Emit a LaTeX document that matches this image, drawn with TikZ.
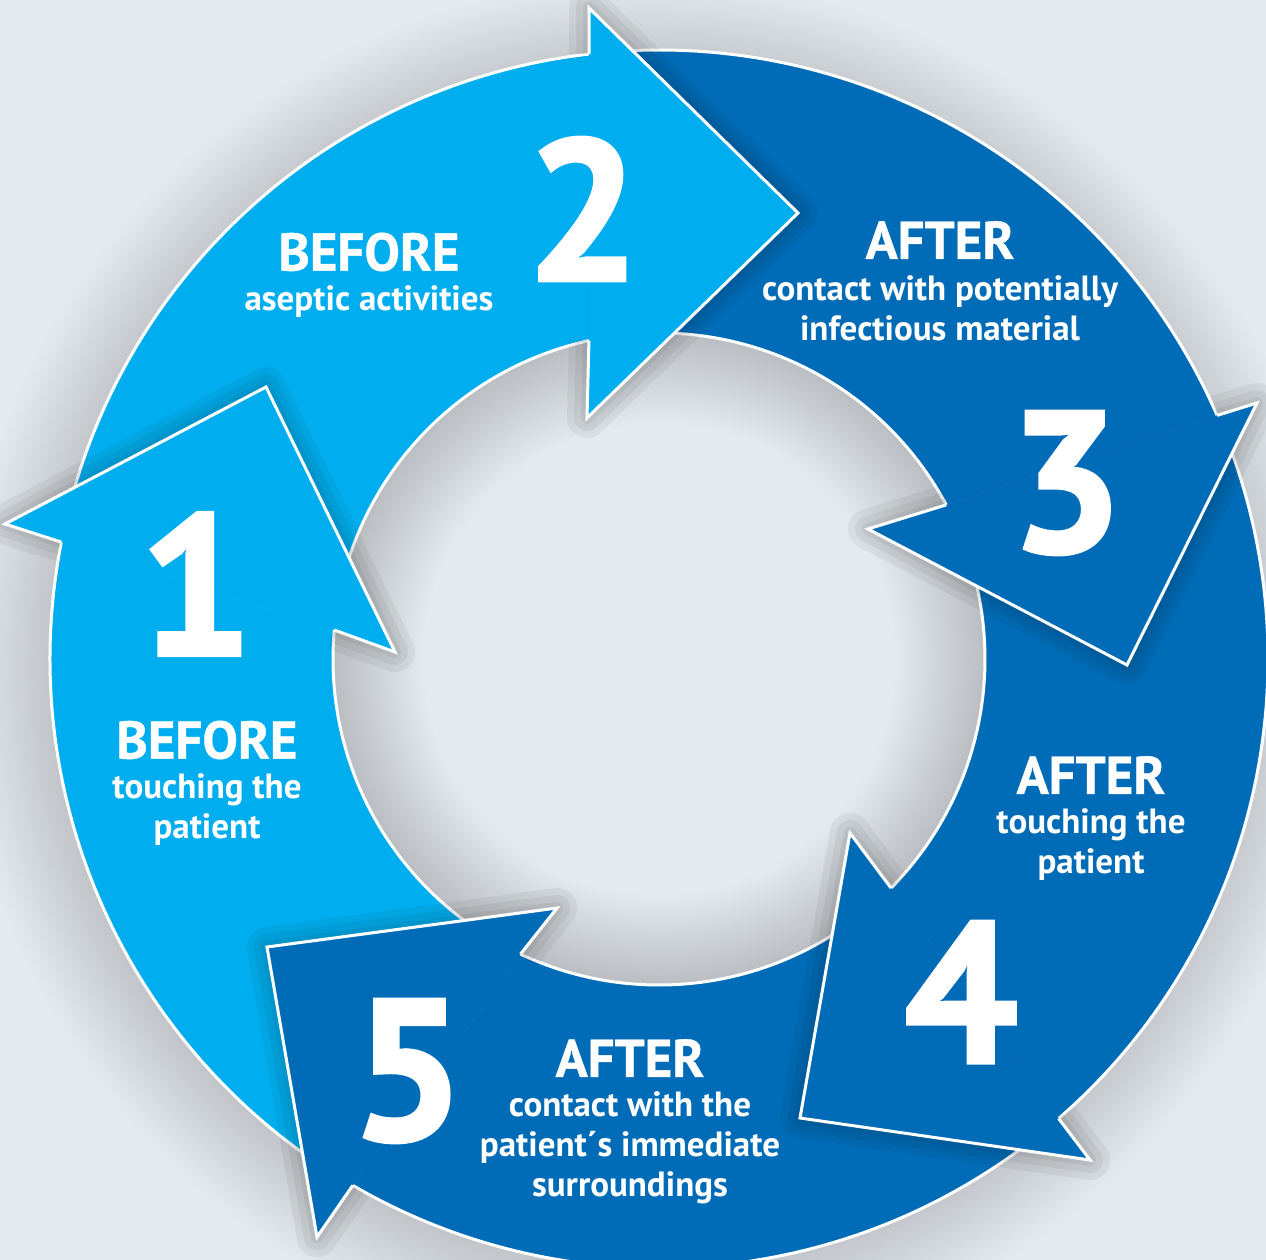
\documentclass[tikz,border=0pt]{standalone}
\usepackage{fontspec}
\setmainfont{PT Sans}
\newfontfamily\numfont{PT Sans}[BoldFeatures={FakeBold=2}]
\newfontfamily\titlefont{PT Sans}[BoldFeatures={FakeBold=0.8}]
\usetikzlibrary{calc,positioning}

\definecolor{bgblue}{RGB}{228,234,238}
\definecolor{lightarrow}{RGB}{0,174,239}
\definecolor{darkarrow}{RGB}{0,108,183}
\definecolor{shadowgrey}{RGB}{186,189,193}

\pgfdeclareradialshading{holeshade}{\pgfpoint{0bp}{0bp}}{color(0bp)=(bgblue); color(18bp)=(bgblue); color(25bp)=(shadowgrey); color(50bp)=(shadowgrey)}
\pgfdeclareradialshading{ringshade}{\pgfpoint{0bp}{0bp}}{color(0bp)=(shadowgrey); color(21bp)=(shadowgrey); color(25bp)=(bgblue); color(50bp)=(bgblue)}

\begin{document}
\begin{tikzpicture}[x=1pt, y=-1pt,
  edge/.style={draw=white, line width=3pt},
  headshadow/.style={preaction={draw=black, draw opacity=0.05, line width=40pt, line join=round},
                     preaction={draw=black, draw opacity=0.05, line width=26pt, line join=round},
                     preaction={draw=black, draw opacity=0.05, line width=12pt, line join=round}},
  numtext/.style={text=white, inner sep=0pt, font=\numfont\bfseries\fontsize{200}{200}\selectfont},
  headtext/.style={text=white, inner sep=0pt, font=\titlefont\bfseries\fontsize{53}{53}\selectfont},
  subtext/.style={text=white, inner sep=0pt, align=center, font=\bfseries\fontsize{35}{40}\selectfont}]

% background and shadows
\fill[bgblue] (0,0) rectangle (1266,1260);
\useasboundingbox (0,0) rectangle (1266,1260);
\clip (0,0) rectangle (1266,1260);
\coordinate (c) at (659,659);
\shade[shading=ringshade] (650,668) circle (690);
\shade[shading=holeshade] (c) circle (326);

% notches on the outer and inner circle
\coordinate (o1) at ($(c)+(191.07:609)$);
\coordinate (i1) at ($(c)+(185.10:326)$);
\coordinate (o2) at ($(c)+(263.41:609)$);
\coordinate (i2) at ($(c)+(257.59:326)$);
\coordinate (o3) at ($(c)+(336.42:609)$);
\coordinate (i3) at ($(c)+(331.78:326)$);
\coordinate (o4) at ($(c)+(48.99:609)$);
\coordinate (i4) at ($(c)+(44.63:326)$);
\coordinate (o5) at ($(c)+(120.19:609)$);
\coordinate (i5) at ($(c)+(115.14:326)$);

% arrow heads: outer corner, tip, inner corner
\coordinate (a1) at (5,524);     \coordinate (t1) at (266,387);  \coordinate (b1) at (395,652);
\coordinate (a2) at (589,8);     \coordinate (t2) at (798,213);  \coordinate (b2) at (587,418);
\coordinate (a3) at (1257,403);  \coordinate (t3) at (1127,665); \coordinate (b3) at (868,529);
\coordinate (a4) at (1090,1160); \coordinate (t4) at (800,1118); \coordinate (b4) at (850,833);
\coordinate (a5) at (317,1237);  \coordinate (t5) at (267,947);  \coordinate (b5) at (557,908);

% ring bodies
\fill[lightarrow] (o5) arc[start angle=120.19, end angle=191.07, radius=609] -- (i1) arc[start angle=185.10, end angle=115.14, radius=326] -- cycle;
\draw[edge] (o5) arc[start angle=120.19, end angle=191.07, radius=609];
\draw[edge] (i1) arc[start angle=185.10, end angle=115.14, radius=326];

\fill[lightarrow] (o1) arc[start angle=191.07, end angle=263.41, radius=609] -- (i2) arc[start angle=257.59, end angle=185.10, radius=326] -- cycle;
\draw[edge] (o1) arc[start angle=191.07, end angle=263.41, radius=609];
\draw[edge] (i2) arc[start angle=257.59, end angle=185.10, radius=326];

\fill[darkarrow] (o2) arc[start angle=263.41, end angle=336.42, radius=609] -- (i3) arc[start angle=331.78, end angle=257.59, radius=326] -- cycle;
\draw[edge] (o2) arc[start angle=263.41, end angle=336.42, radius=609];
\draw[edge] (i3) arc[start angle=331.78, end angle=257.59, radius=326];

\fill[darkarrow] (o3) arc[start angle=336.42, end angle=408.99, radius=609] -- (i4) arc[start angle=404.63, end angle=331.78, radius=326] -- cycle;
\draw[edge] (o3) arc[start angle=336.42, end angle=408.99, radius=609];
\draw[edge] (i4) arc[start angle=404.63, end angle=331.78, radius=326];

\fill[darkarrow] (o4) arc[start angle=48.99, end angle=120.19, radius=609] -- (i5) arc[start angle=115.14, end angle=44.63, radius=326] -- cycle;
\draw[edge] (o4) arc[start angle=48.99, end angle=120.19, radius=609];
\draw[edge] (i5) arc[start angle=115.14, end angle=44.63, radius=326];

% arrow heads
\path[headshadow] (o1) -- (a1) -- (t1) -- (b1) -- (i1);
\fill[lightarrow] (o1) -- (a1) -- (t1) -- (b1) -- (i1) -- cycle;
\draw[edge] (o1) -- (a1) -- (t1) -- (b1) -- (i1);

\path[headshadow] (o2) -- (a2) -- (t2) -- (b2) -- (i2);
\fill[lightarrow] (o2) -- (a2) -- (t2) -- (b2) -- (i2) -- cycle;
\draw[edge] (o2) -- (a2) -- (t2) -- (b2) -- (i2);

\path[headshadow] (o3) -- (a3) -- (t3) -- (b3) -- (i3);
\fill[darkarrow] (o3) -- (a3) -- (t3) -- (b3) -- (i3) -- cycle;
\draw[edge] (o3) -- (a3) -- (t3) -- (b3) -- (i3);

\path[headshadow] (o4) -- (a4) -- (t4) -- (b4) -- (i4);
\fill[darkarrow] (o4) -- (a4) -- (t4) -- (b4) -- (i4) -- cycle;
\draw[edge] (o4) -- (a4) -- (t4) -- (b4) -- (i4);

\path[headshadow] (o5) -- (a5) -- (t5) -- (b5) -- (i5);
\fill[darkarrow] (o5) -- (a5) -- (t5) -- (b5) -- (i5) -- cycle;
\draw[edge] (o5) -- (a5) -- (t5) -- (b5) -- (i5);

% numbers
\node[numtext] (n1) at (196,584) {1};
\node[numtext] (n2) at (583,209) {2};
\node[numtext] (n3) at (1066,483) {3};
\node[numtext] (n4) at (961,992) {4};
\node[numtext] (n5) at (408,1071) {5};

% labels
\node[headtext] (h1) at (207,740) {BEFORE};
\node[subtext, below=14pt of h1] (s1) {touching the\\patient};
\node[headtext] (h2) at (369,252) {BEFORE};
\node[subtext, below=14pt of h2] (s2) {aseptic activities};
\node[headtext] (h3) at (940,240) {AFTER};
\node[subtext, below=16pt of h3] (s3) {contact with potentially\\infectious material};
\node[headtext] (h4) at (1091,775) {AFTER};
\node[subtext, below=14pt of h4] (s4) {touching the\\patient};
\node[headtext] (h5) at (630,1058) {AFTER};
\node[subtext, below=14pt of h5] (s5) {contact with the\\patient´s immediate\\surroundings};

\end{tikzpicture}
\end{document}
